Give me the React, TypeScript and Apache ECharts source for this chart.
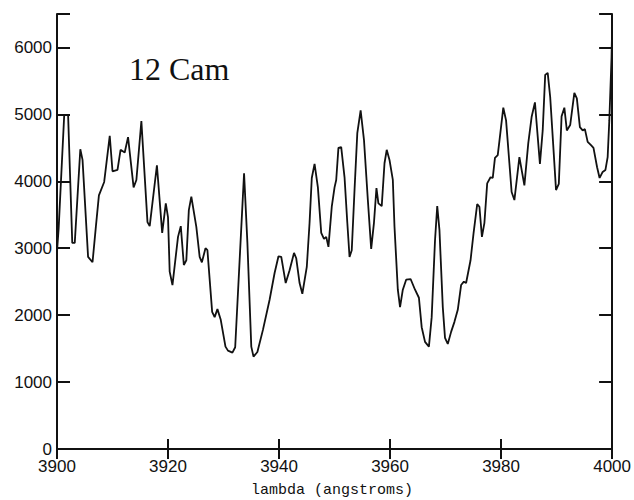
import React, { useEffect, useRef } from "react";
import * as echarts from "echarts";

const wavelengths = [
  3900.0, 3900.3, 3901.3, 3902.0, 3902.75, 3903.2, 3904.2, 3904.6, 3905.6, 3906.4,
  3907.0, 3907.55, 3908.5, 3909.5, 3910.0, 3910.9, 3911.45, 3912.2, 3912.8, 3913.8,
  3914.3, 3915.2, 3916.3, 3916.7, 3918.0, 3918.95, 3919.6, 3920.0, 3920.3, 3920.8,
  3921.8, 3922.3, 3922.85, 3923.3, 3923.75, 3924.2, 3925.1, 3925.7, 3926.1, 3926.75,
  3927.1, 3927.95, 3928.4, 3928.9, 3929.5, 3930.35, 3930.8, 3931.6, 3932.1, 3932.9,
  3933.7, 3934.3, 3935.0, 3935.4, 3936.1, 3937.1, 3938.3, 3939.2, 3939.9, 3940.4,
  3941.2, 3941.9, 3942.7, 3943.1, 3943.7, 3944.2, 3945.0, 3945.5, 3945.9, 3946.4,
  3947.0, 3947.6, 3948.1, 3948.5, 3948.9, 3949.5, 3950.0, 3950.3, 3950.7, 3951.2,
  3951.8, 3952.3, 3952.7, 3953.1, 3953.6, 3954.1, 3954.7, 3955.3, 3956.0, 3956.6,
  3957.1, 3957.55, 3957.9, 3958.5, 3959.0, 3959.4, 3959.9, 3960.5, 3960.8, 3961.4,
  3961.8, 3962.3, 3962.9, 3963.7, 3964.5, 3965.2, 3965.7, 3966.3, 3967.0, 3967.5,
  3968.1, 3968.5, 3968.9, 3969.5, 3969.9, 3970.4, 3971.0, 3971.6, 3972.2, 3972.8,
  3973.3, 3973.7, 3974.5, 3975.05, 3975.7, 3976.1, 3976.55, 3977.0, 3977.5, 3978.1,
  3978.5, 3978.9, 3979.4, 3979.7, 3980.4, 3980.9, 3981.5, 3981.9, 3982.4, 3983.3,
  3984.2, 3984.9, 3985.5, 3986.1, 3987.0, 3987.5, 3987.95, 3988.4, 3988.85, 3989.45,
  3989.9, 3990.4, 3990.9, 3991.4, 3991.85, 3992.45, 3993.2, 3993.65, 3994.2, 3994.7,
  3995.1, 3995.6, 3996.2, 3996.65, 3997.3, 3997.75, 3998.3, 3998.8, 3999.2, 3999.5,
  3999.9, 4000.0,
];

const fluxes = [
  2950, 3300, 4990, 4990, 3080, 3080, 4480, 4320, 2870, 2790,
  3320, 3790, 3990, 4680, 4150, 4170, 4470, 4430, 4660, 3910,
  4020, 4900, 3390, 3330, 4240, 3230, 3670, 3460, 2650, 2450,
  3170, 3330, 2750, 2820, 3570, 3770, 3320, 2870, 2790, 3000,
  2970, 2050, 1970, 2090, 1930, 1530, 1470, 1440, 1520, 2820,
  4120, 3080, 1530, 1380, 1450, 1780, 2230, 2630, 2880, 2870,
  2480, 2670, 2930, 2850, 2480, 2320, 2720, 3380, 4050, 4260,
  3910, 3230, 3140, 3170, 3020, 3620, 3910, 4020, 4500, 4510,
  4060, 3380, 2870, 2970, 3870, 4720, 5060, 4620, 3720, 2990,
  3380, 3900, 3670, 3630, 4270, 4470, 4320, 4020, 3320, 2380,
  2120, 2380, 2530, 2540, 2380, 2260, 1820, 1600, 1530, 1970,
  3120, 3630, 3270, 2120, 1660, 1570, 1750, 1900, 2080, 2450,
  2500, 2480, 2820, 3230, 3660, 3620, 3170, 3380, 3970, 4060,
  4050, 4350, 4390, 4600, 5100, 4910, 4270, 3840, 3720, 4360,
  3940, 4570, 4960, 5180, 4260, 4760, 5590, 5620, 5260, 4470,
  3870, 3960, 4970, 5100, 4760, 4840, 5320, 5240, 4810, 4760,
  4780, 4590, 4540, 4500, 4210, 4050, 4140, 4170, 4360, 4910,
  5850, 6250,
];

const xTicks = [3900, 3920, 3940, 3960, 3980, 4000];
const yTicks = [0, 1000, 2000, 3000, 4000, 5000, 6000];
const title = "12 Cam";
const xTitle = "lambda (angstroms)";

export default function App() {
  const ref = useRef<HTMLDivElement>(null);

  useEffect(() => {
    document.body.style.margin = "0";
    if (!ref.current) return;
    const chart = echarts.init(ref.current, null, { renderer: "svg" });
    const ink = "#111";
    const xMin = xTicks[0];
    const xMax = xTicks[xTicks.length - 1];
    const xInt = xTicks[1] - xTicks[0];
    const yInt = yTicks[1] - yTicks[0];
    const labelFont = { fontFamily: "Liberation Sans", fontSize: 17, color: ink };
    const axisLine = { show: true, lineStyle: { color: ink, width: 2 } };
    const yFmt = (v: number) => (yTicks.includes(v) ? String(v) : "");
    const xFmt = (v: number) => (xTicks.includes(v) ? String(v) : "");

    chart.setOption({
      animation: false,
      backgroundColor: "#fff",
      grid: { left: 57, right: 21, top: 14, bottom: 51, containLabel: false },
      xAxis: [
        {
          type: "value",
          position: "bottom",
          min: xMin,
          max: xMax,
          interval: xInt,
          axisLine,
          axisTick: { show: true, inside: true, length: 10, lineStyle: { color: ink, width: 2 } },
          axisLabel: { ...labelFont, margin: 9, formatter: xFmt },
          splitLine: { show: false },
        },
        {
          type: "value",
          position: "top",
          min: xMin,
          max: xMax,
          interval: xInt,
          axisLine,
          axisTick: { show: true, inside: true, length: 10, lineStyle: { color: ink, width: 2 } },
          axisLabel: { show: false },
          splitLine: { show: false },
        },
      ],
      yAxis: [
        {
          type: "value",
          position: "left",
          min: 0,
          max: 6500,
          interval: yInt,
          axisLine,
          axisTick: { show: true, inside: true, length: 13, lineStyle: { color: ink, width: 2 } },
          axisLabel: { ...labelFont, margin: 5, formatter: yFmt },
          splitLine: { show: false },
        },
        {
          type: "value",
          position: "right",
          min: 0,
          max: 6500,
          interval: yInt,
          axisLine,
          axisTick: { show: true, inside: true, length: 13, lineStyle: { color: ink, width: 2 } },
          axisLabel: { show: false },
          splitLine: { show: false },
        },
      ],
      graphic: [
        {
          type: "text",
          left: 129,
          top: 53,
          style: {
            text: title,
            font: "32px 'Liberation Serif'",
            fill: ink,
          },
        },
        {
          type: "text",
          x: 332,
          y: 490,
          style: {
            text: xTitle,
            font: "15px 'Liberation Mono'",
            fill: ink,
            textAlign: "center",
            textVerticalAlign: "middle",
          },
        },
      ],
      series: [
        {
          type: "line",
          xAxisIndex: 0,
          yAxisIndex: 0,
          data: wavelengths.map((w, i) => [w, fluxes[i]]),
          showSymbol: false,
          symbol: "none",
          lineStyle: { color: ink, width: 1.8 },
          clip: true,
        },
      ],
    });
    return () => chart.dispose();
  }, []);

  return <div ref={ref} style={{ width: 634, height: 500 }} />;
}
